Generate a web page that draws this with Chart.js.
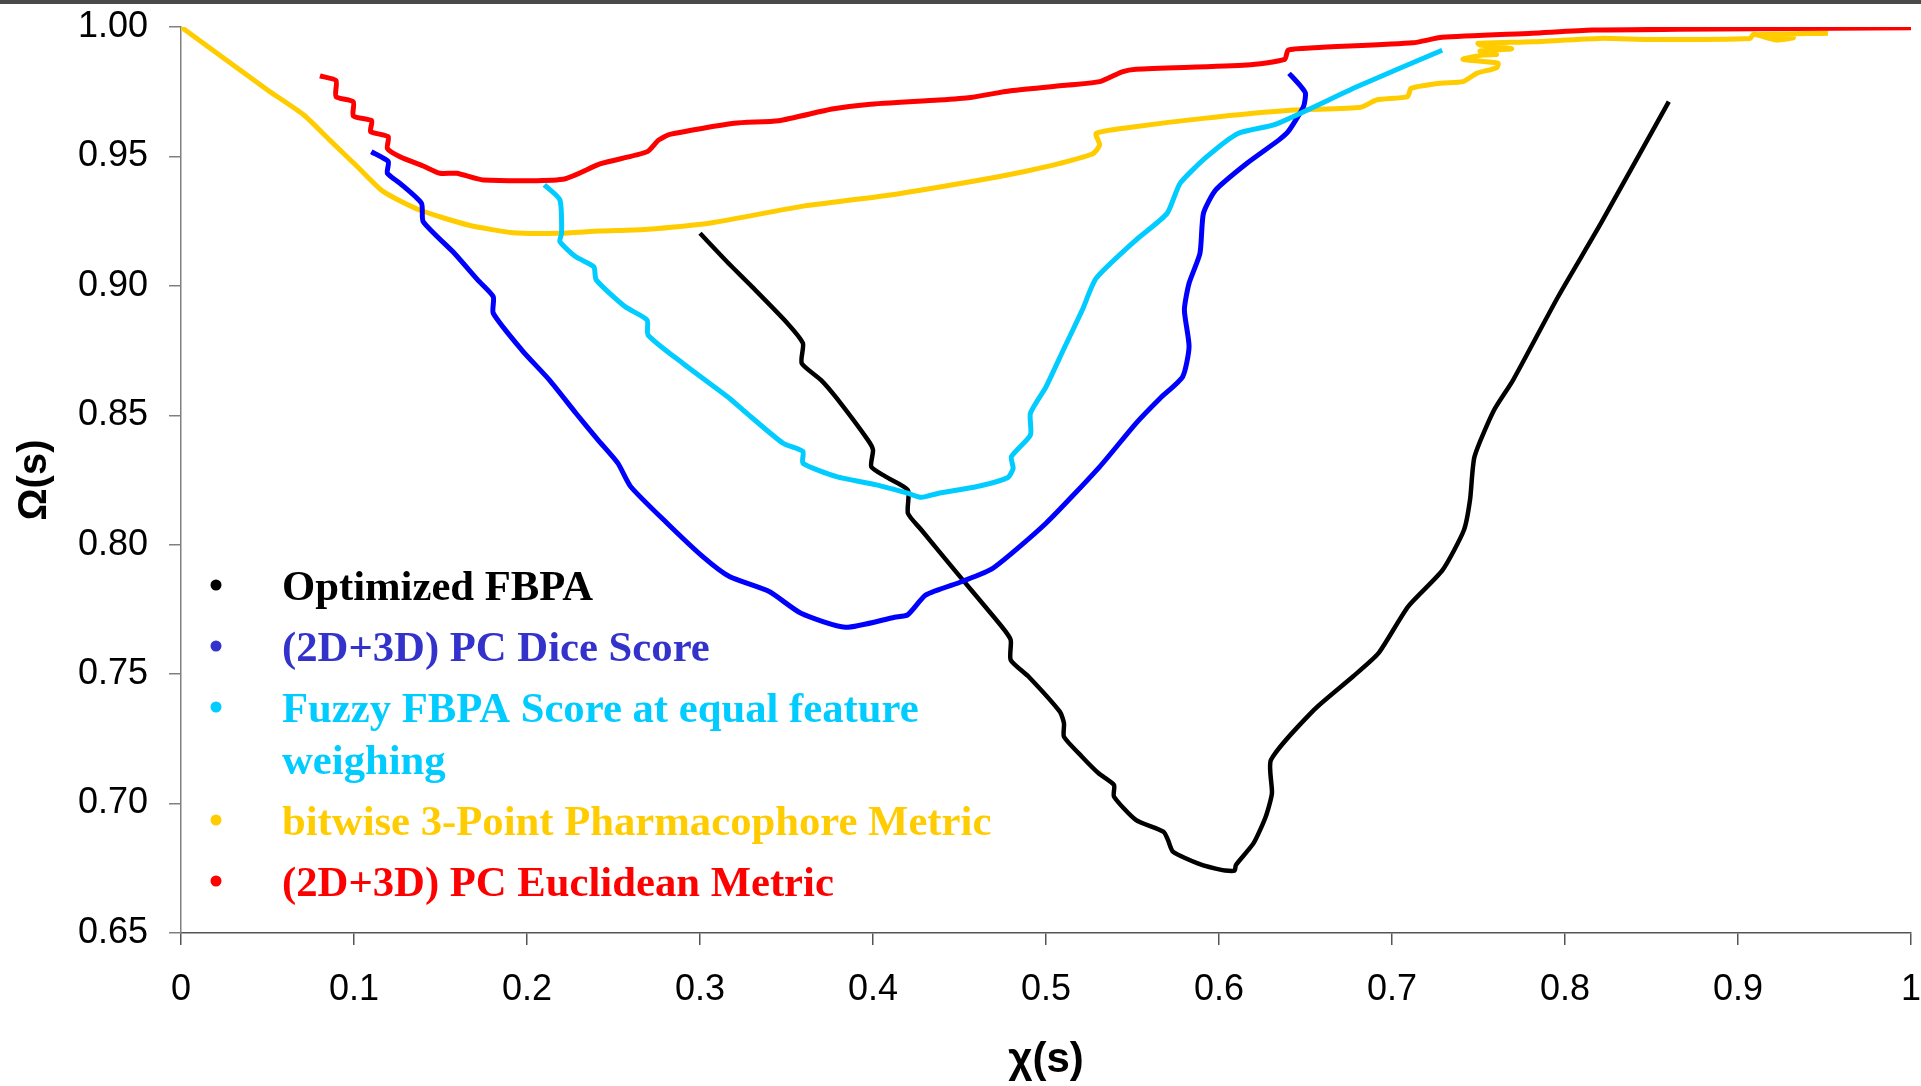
<!DOCTYPE html>
<html>
<head>
<meta charset="utf-8">
<script src="https://cdn.jsdelivr.net/npm/chart.js@4.4.1/dist/chart.umd.min.js"></script>
<style>
  html, body { margin: 0; padding: 0; background: #fff; }
  #wrap { width: 1921px; height: 1086px; }
</style>
</head>
<body>
<div id="wrap"><canvas id="myChart" width="1921" height="1086"></canvas></div>
<script>
// series, [chi, omega]
const optimizedFbpa = [
  [0.300, 0.9203], [0.3156, 0.9093], [0.330, 0.8997], [0.3506, 0.8855], [0.3595, 0.8778],
  [0.3588, 0.8701], [0.370, 0.8636], [0.379, 0.8566], [0.397, 0.8405], [0.400, 0.8366],
  [0.399, 0.8301], [0.4073, 0.8263], [0.4202, 0.8211], [0.4202, 0.8121], [0.428, 0.8057],
  [0.4486, 0.789], [0.4745, 0.7683], [0.4796, 0.7632], [0.4796, 0.7555], [0.490, 0.749],
  [0.508, 0.7355], [0.5104, 0.731], [0.5104, 0.7258], [0.5208, 0.7181], [0.5304, 0.7117],
  [0.5393, 0.7072], [0.5393, 0.7027], [0.5519, 0.6937], [0.568, 0.6891], [0.5705, 0.6859],
  [0.5734, 0.6814], [0.5877, 0.6769], [0.602, 0.6743], [0.609, 0.6741], [0.6098, 0.6763],
  [0.620, 0.6847], [0.627, 0.6949], [0.6306, 0.704], [0.630, 0.7168], [0.6549, 0.7362],
  [0.6773, 0.749], [0.6922, 0.7581], [0.7093, 0.7761], [0.7292, 0.7902], [0.7416, 0.8057],
  [0.7451, 0.8173], [0.7477, 0.834], [0.759, 0.852], [0.770, 0.8636], [0.796, 0.8958],
  [0.8208, 0.9242], [0.860, 0.9712]
];
const pcDice = [
  [0.110, 0.9518], [0.1198, 0.948], [0.1193, 0.9435], [0.1266, 0.9396], [0.139, 0.9319],
  [0.140, 0.9248], [0.158, 0.9126], [0.1715, 0.9023], [0.1805, 0.8958], [0.1805, 0.8894],
  [0.197, 0.8752], [0.213, 0.8636], [0.2283, 0.8508], [0.241, 0.8405], [0.2525, 0.8315],
  [0.260, 0.8224], [0.281, 0.8083], [0.3016, 0.7954], [0.317, 0.7877], [0.340, 0.7819],
  [0.3584, 0.7735], [0.384, 0.7681], [0.4125, 0.772], [0.420, 0.7729], [0.4306, 0.7806],
  [0.4512, 0.7857], [0.4693, 0.7909], [0.500, 0.8083], [0.531, 0.8301], [0.552, 0.8469],
  [0.566, 0.8566], [0.579, 0.8649], [0.5827, 0.8765], [0.580, 0.8907], [0.5827, 0.901],
  [0.589, 0.9126], [0.591, 0.928], [0.598, 0.937], [0.616, 0.9473], [0.6345, 0.9563],
  [0.640, 0.9596], [0.6488, 0.9692], [0.650, 0.9744], [0.6474, 0.977], [0.6405, 0.9821]
];
const fuzzyFbpa = [
  [0.210, 0.939], [0.219, 0.9332], [0.220, 0.9203], [0.219, 0.9171], [0.228, 0.9113],
  [0.2386, 0.9074], [0.240, 0.9023], [0.2566, 0.892], [0.2694, 0.8868], [0.270, 0.881],
  [0.290, 0.8701], [0.317, 0.8566], [0.327, 0.8508], [0.348, 0.8392], [0.3595, 0.836],
  [0.3595, 0.8315], [0.379, 0.8263], [0.402, 0.8231], [0.420, 0.8199], [0.428, 0.8183],
  [0.438, 0.8199], [0.4616, 0.8227], [0.478, 0.826], [0.481, 0.8295], [0.480, 0.834],
  [0.491, 0.8424], [0.491, 0.8508], [0.500, 0.861], [0.510, 0.8752], [0.521, 0.8907],
  [0.529, 0.9029], [0.552, 0.9177], [0.570, 0.928], [0.5775, 0.9396], [0.593, 0.9499],
  [0.611, 0.9589], [0.633, 0.9625], [0.680, 0.977], [0.729, 0.991]
];
const bitwise3pt = [
  [0.000, 1.000], [0.050, 0.9757], [0.071, 0.966], [0.086, 0.9563], [0.102, 0.946],
  [0.117, 0.9364], [0.138, 0.9293], [0.166, 0.9235], [0.192, 0.9205], [0.218, 0.9203],
  [0.242, 0.9212], [0.268, 0.9218], [0.307, 0.9244], [0.358, 0.9306], [0.410, 0.9351],
  [0.462, 0.9409], [0.487, 0.9441], [0.508, 0.9473], [0.527, 0.951], [0.531, 0.9544],
  [0.529, 0.9589], [0.547, 0.9611], [0.591, 0.9647], [0.643, 0.9679], [0.682, 0.969],
  [0.691, 0.9718], [0.709, 0.9731], [0.711, 0.9763], [0.728, 0.9783], [0.741, 0.9789],
  [0.749, 0.9821], [0.7605, 0.9843], [0.7613, 0.986], [0.741, 0.9875], [0.7526, 0.9892],
  [0.7605, 0.9894], [0.7509, 0.9907], [0.7692, 0.9916], [0.7509, 0.993], [0.7497, 0.9937],
  [0.7815, 0.9943], [0.8202, 0.9956], [0.849, 0.9952], [0.907, 0.9956], [0.909, 0.9972],
  [0.922, 0.995], [0.932, 0.9959], [0.911, 0.997], [0.952, 0.9976]
];
const pcEuclidean = [
  [0.0803, 0.9811], [0.0896, 0.9793], [0.0896, 0.9731], [0.0996, 0.9711], [0.0996, 0.9656],
  [0.1102, 0.9638], [0.1096, 0.9596], [0.1198, 0.9576], [0.1193, 0.9531], [0.1266, 0.9499],
  [0.140, 0.9463], [0.1497, 0.9435], [0.1594, 0.9435], [0.1747, 0.9409], [0.2208, 0.9412],
  [0.2422, 0.9471], [0.2694, 0.9518], [0.276, 0.9563], [0.2825, 0.9585], [0.3197, 0.9628],
  [0.3454, 0.9638], [0.3763, 0.9683], [0.397, 0.9701], [0.438, 0.9718], [0.4564, 0.9728],
  [0.4796, 0.9754], [0.513, 0.9776], [0.531, 0.9789], [0.544, 0.9827], [0.552, 0.9837],
  [0.616, 0.9853], [0.638, 0.9875], [0.640, 0.9911], [0.655, 0.992], [0.712, 0.9939],
  [0.729, 0.996], [0.781, 0.9976], [0.816, 0.9988], [0.865, 0.9991], [1.000, 0.9997]
];

const seriesNames = [
  "Optimized FBPA",
  "(2D+3D) PC Dice Score",
  ["Fuzzy FBPA Score at equal feature", "weighing"],
  "bitwise 3-Point Pharmacophore Metric",
  "(2D+3D) PC Euclidean Metric"
];
const xTicks = [0, 0.1, 0.2, 0.3, 0.4, 0.5, 0.6, 0.7, 0.8, 0.9, 1];
const yTicks = [0.65, 0.70, 0.75, 0.80, 0.85, 0.90, 0.95, 1.00];

const lineColors = ["#000000", "#0000ff", "#00ccff", "#ffcc00", "#ff0000"];
const labelColors = ["#000000", "#3333cc", "#00ccff", "#ffcc00", "#ff0000"];
const lineWidths = [4.5, 5, 5, 5, 5];

const toPts = (arr) => arr.map(([x, y]) => ({ x: x, y: y }));
const allSeries = [optimizedFbpa, pcDice, fuzzyFbpa, bitwise3pt, pcEuclidean];
const drawOrder = [3, 2, 1, 4, 0]; // red drawn on top

const sansFont = "'Liberation Sans', Arial, Helvetica, sans-serif";
const serifFont = "'Liberation Serif', 'Times New Roman', Times, serif";

// top border strip + free-floating legend inside the plot
const frameAndLegend = {
  id: "frameAndLegend",
  beforeDraw(chart) {
    const ctx = chart.ctx;
    ctx.save();
    ctx.fillStyle = "#fff";
    ctx.fillRect(0, 0, chart.width, chart.height);
    ctx.restore();
  },
  afterDraw(chart) {
    const ctx = chart.ctx;
    ctx.save();
    ctx.fillStyle = "#4a4a4a";
    ctx.fillRect(0, 0, chart.width, 4);

    ctx.font = "bold 42.7px " + serifFont;
    ctx.textBaseline = "alphabetic";
    ctx.textAlign = "left";
    let base = 600;
    seriesNames.forEach((name, i) => {
      const lines = Array.isArray(name) ? name : [name];
      ctx.fillStyle = labelColors[i];
      ctx.beginPath();
      ctx.arc(216, base - 15, 5.5, 0, Math.PI * 2);
      ctx.fill();
      lines.forEach((ln, j) => {
        ctx.fillText(ln, 282, base + j * 52);
      });
      base += 61 + (lines.length - 1) * 52;
    });
    ctx.restore();
  }
};

const ctx = document.getElementById("myChart");
const myChart = new Chart(ctx, {
  type: "scatter",
  data: {
    datasets: allSeries.map((s, i) => ({
      label: Array.isArray(seriesNames[i]) ? seriesNames[i].join(" ") : seriesNames[i],
      data: toPts(s),
      showLine: true,
      borderColor: lineColors[i],
      backgroundColor: lineColors[i],
      borderWidth: lineWidths[i],
      pointRadius: 0,
      tension: 0.2,
      order: drawOrder[i]
    }))
  },
  options: {
    responsive: false,
    animation: false,
    layout: { padding: { top: 27, right: 10, left: 0, bottom: 0 } },
    plugins: {
      legend: { display: false },
      tooltip: { enabled: false }
    },
    scales: {
      x: {
        type: "linear",
        min: 0,
        max: 1,
        afterBuildTicks: (scale) => { scale.ticks = xTicks.map(v => ({ value: v })); },
        afterFit: (scale) => {
          scale.height = 153;
          scale.paddingLeft = 0;
          scale.paddingRight = 0;
        },
        ticks: {
          padding: 23,
          color: "#000",
          maxRotation: 0,
          autoSkip: false,
          font: { family: sansFont, size: 36 },
          callback: (v) => String(Number(Number(v).toFixed(1)))
        },
        grid: { drawOnChartArea: false, drawTicks: true, tickLength: 12, color: "#555", lineWidth: 1.5 },
        border: { display: true, color: "#555", width: 1.5 },
        title: {
          display: true,
          text: "χ(s)",
          color: "#000",
          font: { family: sansFont, size: 42, weight: "bold" },
          padding: 0
        }
      },
      y: {
        type: "linear",
        min: 0.65,
        max: 1,
        afterBuildTicks: (scale) => { scale.ticks = yTicks.map(v => ({ value: v })); },
        afterFit: (scale) => {
          scale.width = 181;
          scale.paddingTop = 0;
          scale.paddingBottom = 0;
        },
        ticks: {
          padding: 21,
          color: "#000",
          font: { family: sansFont, size: 36 },
          callback: (v) => Number(v).toFixed(2)
        },
        grid: { drawOnChartArea: false, drawTicks: true, tickLength: 12, color: "#808080", lineWidth: 1.5 },
        border: { display: true, color: "#808080", width: 1.5 },
        title: {
          display: true,
          text: "Ω(s)",
          color: "#000",
          font: { family: sansFont, size: 40, weight: "bold" },
          padding: { top: 11, bottom: 0 }
        }
      }
    }
  },
  plugins: [frameAndLegend]
});
</script>
</body>
</html>
